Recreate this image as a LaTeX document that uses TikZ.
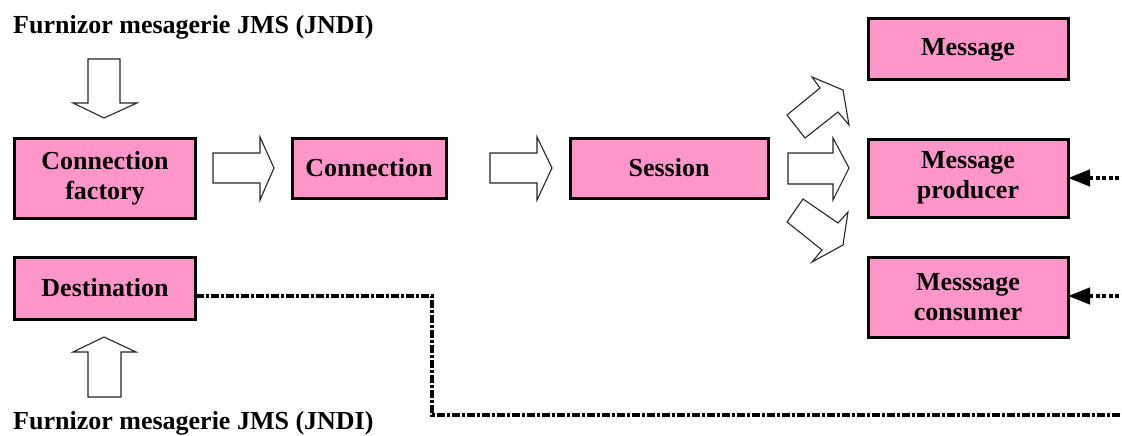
\documentclass[tikz,border=0pt]{standalone}
\usepackage{fontspec}
\setmainfont{Liberation Serif}
\usetikzlibrary{arrows.meta}
\definecolor{boxpink}{RGB}{255,150,202}
\tikzset{
  comp/.style={draw=black, line width=3pt, fill=boxpink, inner sep=0pt, outer sep=0pt,
    font=\bfseries\fontsize{26}{30}\selectfont, align=center},
  blockarrow/.style={draw=black!85, line width=1.1pt, fill=white, line join=miter},
  label/.style={anchor=base west, inner sep=0pt, font=\bfseries\fontsize{26}{30}\selectfont},
  dotlink/.style={line width=4pt, dash pattern=on 4pt off 2.5pt,
    {Triangle[length=22pt,width=16pt]}-},
  dashdotlink/.style={line width=3.5pt, dash pattern=on 8pt off 2pt on 3pt off 2pt}
}
\begin{document}
\begin{tikzpicture}[x=1pt,y=-1pt]
\useasboundingbox (0,0) rectangle (1122,436);

% text labels for the provider
\node[label] (topsrc) at (13,34) {Furnizor mesagerie JMS (JNDI)};
\node[label] (botsrc) at (13,429) {Furnizor mesagerie JMS (JNDI)};

% component boxes
\node[comp, minimum width=181pt, minimum height=80pt] (cf) at (105,178) {Connection\\factory};
\node[comp, minimum width=154pt, minimum height=60pt] (conn) at (369,168) {Connection};
\node[comp, minimum width=198pt, minimum height=60pt] (sess) at (669,168) {Session};
\node[comp, minimum width=200pt, minimum height=61pt] (msg) at (968,49.5) {Message};
\node[comp, minimum width=200pt, minimum height=78pt] (prod) at (968,178) {Message\\producer};
\node[comp, minimum width=200pt, minimum height=80pt] (cons) at (968,297) {Messsage\\consumer};
\node[comp, minimum width=181pt, minimum height=62pt] (dest) at (105,288) {Destination};

% hollow block arrows
\draw[blockarrow] (88,59) -- (120,59) -- (120,103) -- (137,103) -- (104,118) -- (73,103) -- (88,103) -- cycle;
\draw[blockarrow] (88,397) -- (121,397) -- (121,352) -- (136,352) -- (104,337) -- (73,352) -- (88,352) -- cycle;
\draw[blockarrow] (213,153) -- (260,153) -- (260,137) -- (274,168) -- (260,200) -- (260,183) -- (213,183) -- cycle;
\draw[blockarrow] (490,153) -- (537,153) -- (537,137) -- (552,168) -- (537,200) -- (537,183) -- (490,183) -- cycle;
\draw[blockarrow] (788,153) -- (833,153) -- (833,138) -- (849,168) -- (833,200) -- (833,184) -- (788,184) -- cycle;
\draw[blockarrow] (787,115) -- (820,88) -- (812,77) -- (843,90) -- (849,125) -- (838,112) -- (805,138) -- cycle;
\draw[blockarrow] (787,222) -- (803,199) -- (838,223) -- (848,212) -- (843,245) -- (812,262) -- (822,250) -- cycle;

% links leaving the picture on the right
\coordinate (prodin) at (1122,178);
\coordinate (consin) at (1122,296);
\coordinate (destout) at (1122,415);
\draw[dotlink] (prod.east) -- (prodin);
\draw[dotlink] (cons.east |- consin) -- (consin);
\draw[dashdotlink] (dest.east |- 0,296) -- (432,296) -- (432,415) -- (destout);
\end{tikzpicture}
\end{document}
